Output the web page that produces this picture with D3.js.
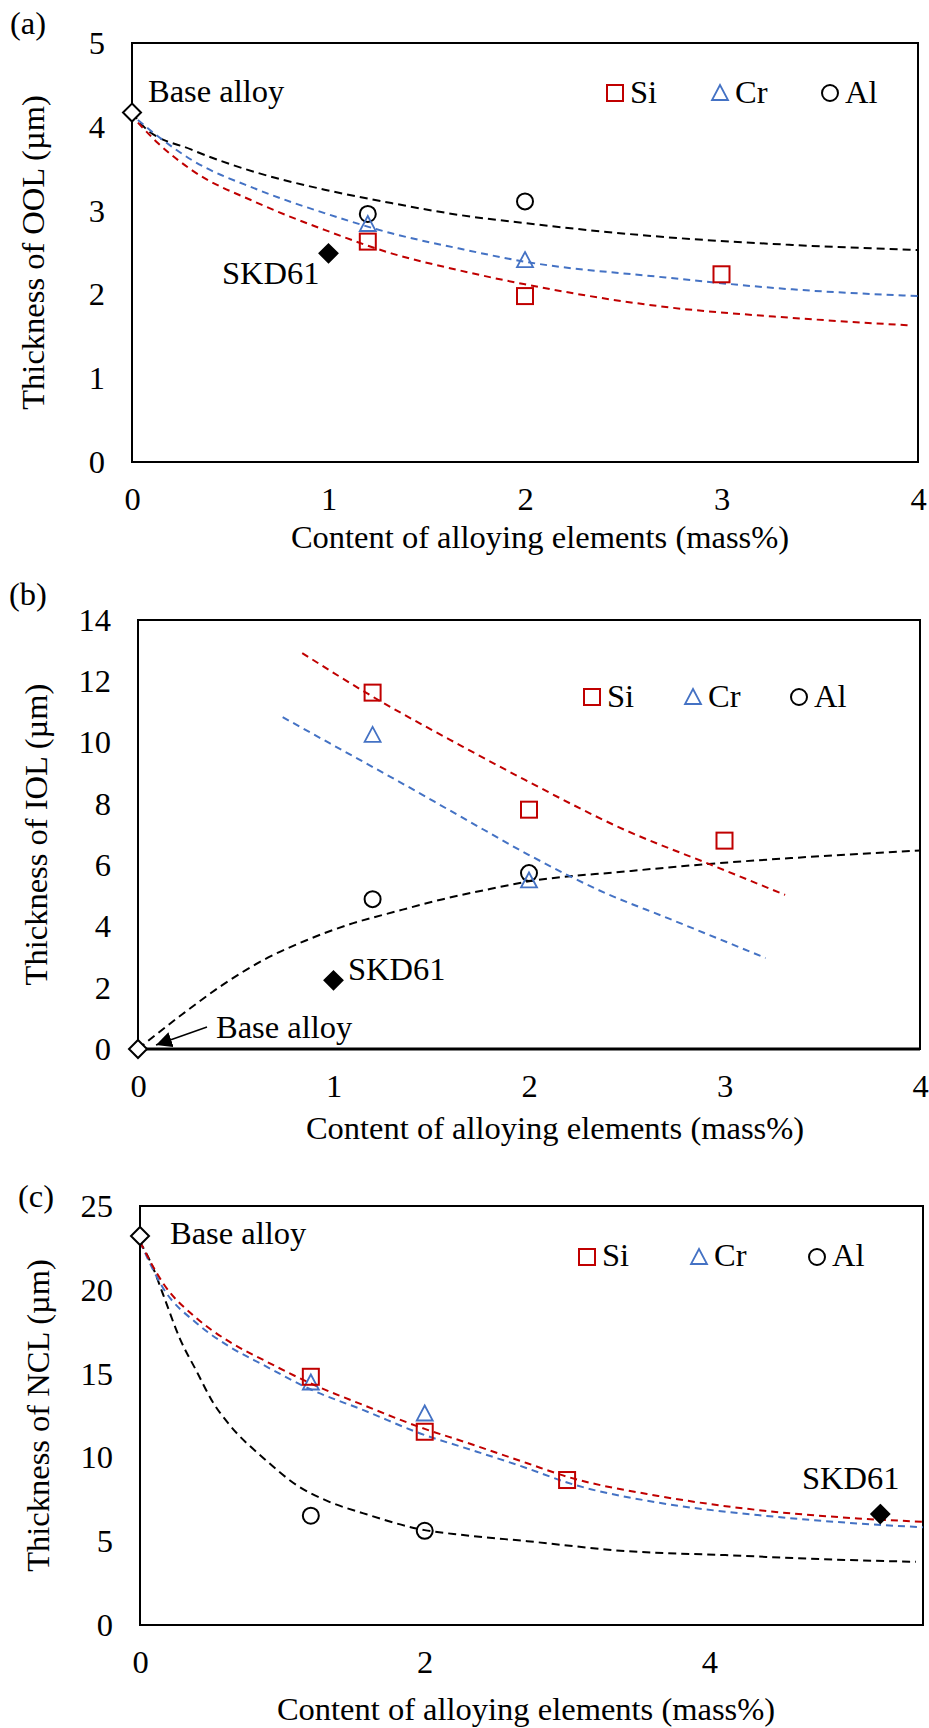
<!DOCTYPE html>
<html>
<head>
<meta charset="utf-8">
<script src="https://cdn.jsdelivr.net/npm/d3@7"></script>
<style>
  body { margin: 0; background: #fff; }
  svg { display: block; }
</style>
</head>
<body>
<div id="chart"></div>
<script>
// ---------- data ----------
const elements = ["Si", "Cr", "Al"];
const xTicksAB = [0, 1, 2, 3, 4];
const xTicksC = [0, 2, 4];
const yTicksA = [0, 1, 2, 3, 4, 5];
const yTicksB = [0, 2, 4, 6, 8, 10, 12, 14];
const yTicksC = [0, 5, 10, 15, 20, 25];

// (a) thickness of OOL
const siXA = [1.2, 2, 3], siYA = [2.63, 1.98, 2.24];
const crXA = [1.2, 2], crYA = [2.84, 2.41];
const alXA = [1.2, 2], alYA = [2.96, 3.11];
const baseA = [0, 4.17];
const skdA = [1, 2.49];
const siFitXA = [0.03, 0.13, 0.30, 0.64, 0.98, 1.32, 1.66, 2.0, 2.68, 3.36, 3.96];
const siFitYA = [4.05, 3.81, 3.49, 3.09, 2.77, 2.49, 2.29, 2.12, 1.86, 1.72, 1.63];
const crFitXA = [0.03, 0.13, 0.30, 0.64, 0.98, 1.32, 1.66, 2.0, 2.68, 3.36, 4.0];
const crFitYA = [4.08, 3.89, 3.61, 3.25, 2.97, 2.73, 2.55, 2.39, 2.21, 2.06, 1.98];
const alFitXA = [0, 0.065, 0.30, 0.64, 0.98, 1.32, 1.66, 2.0, 2.68, 3.36, 4.0];
const alFitYA = [4.17, 3.99, 3.73, 3.45, 3.25, 3.09, 2.95, 2.85, 2.69, 2.59, 2.53];

// (b) thickness of IOL
const siXB = [1.2, 2, 3], siYB = [11.63, 7.81, 6.80];
const crXB = [1.2, 2], crYB = [10.25, 5.50];
const alXB = [1.2, 2], alYB = [4.89, 5.74];
const baseB = [0, 0];
const skdB = [1, 2.24];
const siFitXB = [0.84, 1.2, 1.66, 1.98, 2.49, 2.92, 3.31];
const siFitYB = [12.92, 11.5, 9.87, 8.78, 7.15, 6.04, 5.03];
const crFitXB = [0.74, 0.98, 1.32, 1.66, 2.0, 2.39, 2.71, 3.21];
const crFitYB = [10.83, 9.98, 8.78, 7.55, 6.33, 5.09, 4.27, 2.97];
const alFitXB = [0, 0.23, 0.435, 0.64, 0.862, 1.083, 1.32, 1.56, 1.8, 2.0, 2.49, 2.92, 3.34, 4.0];
const alFitYB = [0, 1.15, 2.10, 2.90, 3.55, 4.07, 4.49, 4.89, 5.22, 5.47, 5.79, 6.04, 6.23, 6.48];

// (c) thickness of NCL
const siXC = [1.2, 2, 3], siYC = [14.81, 11.53, 8.65];
const crXC = [1.2, 2], crYC = [14.47, 12.62];
const alXC = [1.2, 2], alYC = [6.52, 5.62];
const baseC = [0, 23.21];
const skdC = [5.2, 6.62];
const siFitXC = [0, 0.164, 0.40, 0.63, 0.87, 1.2, 1.57, 2.0, 2.27, 2.72, 3.0, 3.64, 4.34, 5.04, 5.5];
const siFitYC = [22.86, 20.37, 18.29, 16.89, 15.80, 14.41, 13.12, 11.7, 10.95, 9.65, 8.85, 7.7, 6.86, 6.36, 6.16];
const crFitXC = [0, 0.164, 0.40, 0.63, 0.87, 1.2, 1.57, 2.0, 2.27, 2.72, 3.0, 3.64, 4.34, 5.04, 5.5];
const crFitYC = [22.86, 20.08, 17.99, 16.6, 15.5, 14.05, 12.82, 11.33, 10.6, 9.35, 8.5, 7.3, 6.56, 6.06, 5.83];
const alFitXC = [0, 0.094, 0.164, 0.28, 0.40, 0.51, 0.63, 0.87, 1.10, 1.33, 1.57, 2.0, 2.27, 2.72, 3.41, 4.11, 4.81, 5.45];
const alFitYC = [22.86, 21.27, 19.68, 17.09, 15.10, 13.32, 11.93, 9.94, 8.35, 7.35, 6.66, 5.66, 5.37, 5.0, 4.41, 4.17, 3.92, 3.77];

// ---------- styling ----------
const FONT = '"Liberation Serif", "Times New Roman", serif';
const FS = 32.5;
const colors = { Si: "#C00000", Cr: "#4472C4", Al: "#000000" };
const dashes = { Si: "7,5", Cr: "7,5", Al: "8,5" };
const xTitle = "Content of alloying elements (mass%)";

const zip = (xs, ys) => xs.map((x, i) => ({ x: x, y: ys[i] }));

const panels = [
  {
    tag: "(a)", tagPos: [10, 34], yTitle: "Thickness of OOL (\u00b5m)", yTitleX: 44,
    box: { left: 132, right: 918, top: 43, bottom: 462 },
    xDomain: [0, 4], yDomain: [0, 5], xTicks: xTicksAB, yTicks: yTicksA,
    xTitlePos: [540, 548],
    series: {
      Si: zip(siXA, siYA), Cr: zip(crXA, crYA), Al: zip(alXA, alYA)
    },
    fits: {
      Al: zip(alFitXA, alFitYA), Cr: zip(crFitXA, crFitYA), Si: zip(siFitXA, siFitYA)
    },
    base: baseA, skd: skdA,
    baseText: [148, 102], skdText: [222, 284],
    legend: { x: [615, 720, 830], y: 93, base: 103 }
  },
  {
    tag: "(b)", tagPos: [9, 605], yTitle: "Thickness of IOL (\u00b5m)", yTitleX: 47,
    box: { left: 138, right: 920, top: 620, bottom: 1049 },
    xDomain: [0, 4], yDomain: [0, 14], xTicks: xTicksAB, yTicks: yTicksB,
    xTitlePos: [555, 1139],
    series: {
      Si: zip(siXB, siYB), Cr: zip(crXB, crYB), Al: zip(alXB, alYB)
    },
    fits: {
      Al: zip(alFitXB, alFitYB), Cr: zip(crFitXB, crFitYB), Si: zip(siFitXB, siFitYB)
    },
    base: baseB, skd: skdB,
    baseText: [216, 1038], skdText: [348, 980], arrow: true,
    legend: { x: [592, 693, 799], y: 697, base: 707 }
  },
  {
    tag: "(c)", tagPos: [18, 1207], yTitle: "Thickness of NCL (\u00b5m)", yTitleX: 49,
    box: { left: 140, right: 923, top: 1206, bottom: 1625 },
    xDomain: [0, 5.5], yDomain: [0, 25], xTicks: xTicksC, yTicks: yTicksC,
    xTitlePos: [526, 1720],
    series: {
      Si: zip(siXC, siYC), Cr: zip(crXC, crYC), Al: zip(alXC, alYC)
    },
    fits: {
      Al: zip(alFitXC, alFitYC), Cr: zip(crFitXC, crFitYC), Si: zip(siFitXC, siFitYC)
    },
    base: baseC, skd: skdC,
    baseText: [170, 1244], skdText: [802, 1489],
    legend: { x: [587, 699, 817], y: 1257, base: 1266 }
  }
];

const svg = d3.select("#chart")
  .append("svg")
  .attr("width", 929)
  .attr("height", 1728)
  .style("font-family", FONT);

svg.append("defs").append("marker")
  .attr("id", "arrowhead")
  .attr("viewBox", "0 0 10 10")
  .attr("refX", 10).attr("refY", 5)
  .attr("markerWidth", 16).attr("markerHeight", 16)
  .attr("markerUnits", "userSpaceOnUse")
  .attr("orient", "auto")
  .append("path")
  .attr("d", "M0,0 L10,5 L0,10 z")
  .attr("fill", "#000");

// marker painters
function drawMarker(g, name, cx, cy) {
  if (name === "Si") {
    g.append("rect")
      .attr("x", cx - 8).attr("y", cy - 8)
      .attr("width", 16).attr("height", 16)
      .attr("fill", "none").attr("stroke", colors.Si).attr("stroke-width", 2);
  } else if (name === "Cr") {
    g.append("path")
      .attr("d", `M${cx},${cy - 8} L${cx + 8},${cy + 7} L${cx - 8},${cy + 7} Z`)
      .attr("fill", "none").attr("stroke", colors.Cr).attr("stroke-width", 1.8);
  } else {
    g.append("circle")
      .attr("cx", cx).attr("cy", cy).attr("r", 8)
      .attr("fill", "none").attr("stroke", colors.Al).attr("stroke-width", 2);
  }
}

function diamond(g, cx, cy, filled) {
  g.append("path")
    .attr("d", `M${cx},${cy - 9} L${cx + 9},${cy} L${cx},${cy + 9} L${cx - 9},${cy} Z`)
    .attr("fill", filled ? "#000" : "#fff")
    .attr("stroke", "#000").attr("stroke-width", 2);
}

panels.forEach(p => {
  const b = p.box;
  const x = d3.scaleLinear().domain(p.xDomain).range([b.left, b.right]);
  const y = d3.scaleLinear().domain(p.yDomain).range([b.bottom, b.top]);
  const g = svg.append("g");

  // frame
  g.append("rect")
    .attr("x", b.left).attr("y", b.top)
    .attr("width", b.right - b.left).attr("height", b.bottom - b.top)
    .attr("fill", "none").attr("stroke", "#000").attr("stroke-width", 2);

  // axes (labels only)
  const xAxis = g.append("g")
    .attr("transform", `translate(0,${b.bottom})`)
    .call(d3.axisBottom(x).tickValues(p.xTicks).tickSize(0).tickPadding(25).tickFormat(d3.format("d")));
  const yAxis = g.append("g")
    .attr("transform", `translate(${b.left},0)`)
    .call(d3.axisLeft(y).tickValues(p.yTicks).tickSize(0).tickPadding(27).tickFormat(d3.format("d")));
  [xAxis, yAxis].forEach(a => {
    a.select(".domain").remove();
    a.attr("font-family", FONT).attr("font-size", FS);
    a.selectAll("text").attr("fill", "#000");
  });

  // titles
  g.append("text")
    .attr("x", p.xTitlePos[0]).attr("y", p.xTitlePos[1])
    .attr("text-anchor", "middle").attr("font-size", FS)
    .text(xTitle);
  g.append("text")
    .attr("transform", `translate(${p.yTitleX},${(b.top + b.bottom) / 2}) rotate(-90)`)
    .attr("text-anchor", "middle").attr("font-size", FS)
    .text(p.yTitle);
  g.append("text")
    .attr("x", p.tagPos[0]).attr("y", p.tagPos[1])
    .attr("font-size", FS)
    .text(p.tag);

  // trend lines
  const line = d3.line()
    .x(d => x(d.x)).y(d => y(d.y))
    .curve(d3.curveMonotoneX);
  Object.keys(p.fits).forEach(k => {
    g.append("path")
      .datum(p.fits[k])
      .attr("d", line)
      .attr("fill", "none")
      .attr("stroke", colors[k])
      .attr("stroke-width", 2)
      .attr("stroke-dasharray", dashes[k]);
  });

  if (p.tag === "(b)") {
    // heavier bottom edge as in the figure
    g.append("line")
      .attr("x1", b.left).attr("x2", b.right)
      .attr("y1", b.bottom).attr("y2", b.bottom)
      .attr("stroke", "#000").attr("stroke-width", 3);
  }

  // data markers
  ["Al", "Cr", "Si"].forEach(k => {
    p.series[k].forEach(d => drawMarker(g, k, x(d.x), y(d.y)));
  });
  diamond(g, x(p.base[0]), y(p.base[1]), false);
  diamond(g, x(p.skd[0]), y(p.skd[1]), true);

  // annotations
  g.append("text")
    .attr("x", p.baseText[0]).attr("y", p.baseText[1])
    .attr("font-size", FS).text("Base alloy");
  g.append("text")
    .attr("x", p.skdText[0]).attr("y", p.skdText[1])
    .attr("font-size", FS).text("SKD61");

  if (p.arrow) {
    g.append("line")
      .attr("x1", p.baseText[0] - 9).attr("y1", p.baseText[1] - 11)
      .attr("x2", x(p.base[0]) + 18).attr("y2", y(p.base[1]) - 4)
      .attr("stroke", "#000").attr("stroke-width", 1.5)
      .attr("marker-end", "url(#arrowhead)");
  }

  // legend
  elements.forEach((k, i) => {
    const lx = p.legend.x[i];
    drawMarker(g, k, lx, p.legend.y);
    g.append("text")
      .attr("x", lx + 15).attr("y", p.legend.base)
      .attr("font-size", FS).text(k);
  });
});
</script>
</body>
</html>
